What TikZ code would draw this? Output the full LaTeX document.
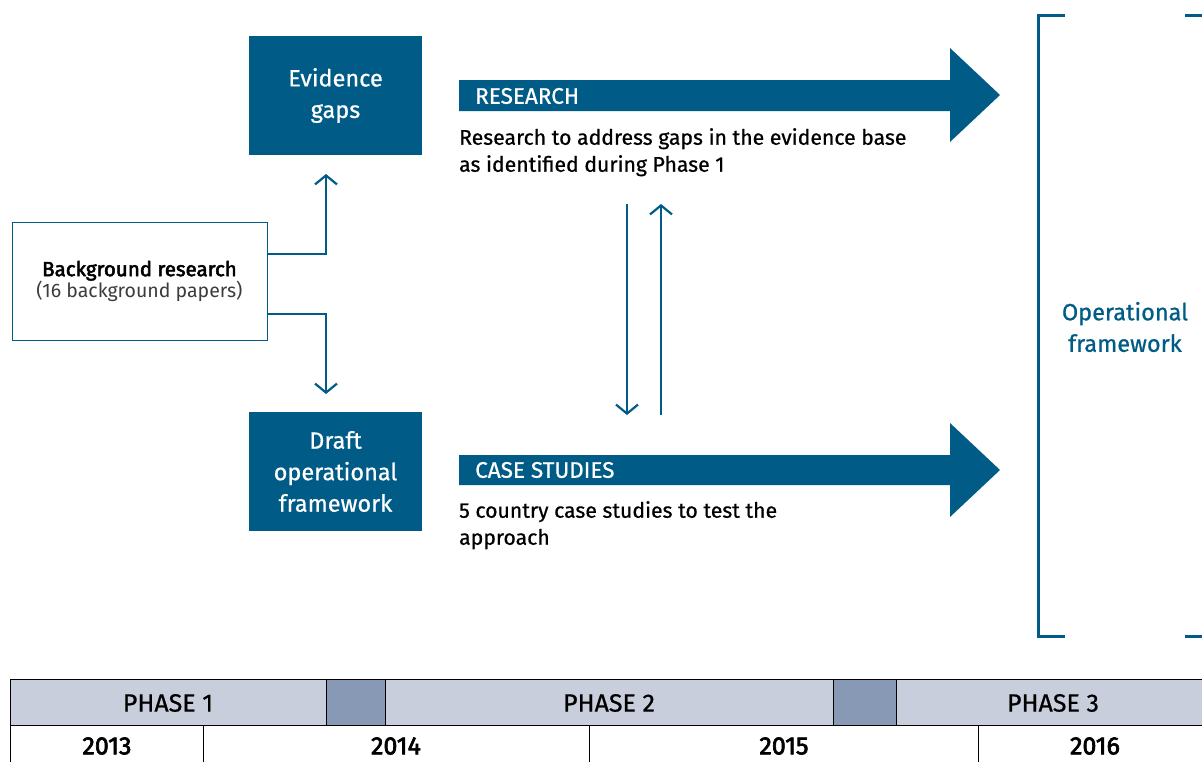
\documentclass[tikz,border=0pt]{standalone}
\usepackage{fontspec}
\setmainfont{Fira Sans}
\newfontfamily\med{Fira Sans}[FakeBold=0.7]
\newfontfamily\semi{Fira Sans}[FakeBold=2.6]
\usetikzlibrary{arrows.meta}
\definecolor{dblue}{RGB}{0,92,135}
\definecolor{phlight}{RGB}{200,206,220}
\definecolor{phdark}{RGB}{135,153,181}
\definecolor{graytxt}{RGB}{60,60,60}
\tikzset{
  bluebox/.style={fill=dblue, text=white, inner sep=0pt, font=\med\fontsize{23.5}{31.5}\selectfont, align=center},
  conn/.style={draw=dblue, line width=2.2pt, -{Straight Barb[length=9pt,width=22pt,line width=2.2pt]}},
  bartext/.style={text=white, anchor=west, font=\med\fontsize{22.5}{24}\selectfont, inner sep=0pt},
  desc/.style={anchor=north west, align=left, font=\med\fontsize{21.2}{27}\selectfont, inner sep=0pt, text=black},
  cell/.style={draw=black, line width=1pt},
  celltext/.style={font=\med\fontsize{25}{26}\selectfont, inner sep=0pt},
  yeartext/.style={font=\semi\fontsize{25}{26}\selectfont, inner sep=0pt},
}
\begin{document}
\begin{tikzpicture}[x=1pt,y=-1pt]
\useasboundingbox[fill=white] (0,0) rectangle (1202,761);

% boxes
\node[bluebox, minimum width=173pt, minimum height=119pt] (eg) at (335.5,95.5) {Evidence\\gaps};
\node[bluebox, minimum width=173pt, minimum height=119pt] (dof) at (335.5,471.5) {Draft\\operational\\framework};
\node[draw=dblue, line width=1pt, fill=white, minimum width=255pt, minimum height=118pt, inner sep=0pt, align=center] (bg) at (139.5,281)
  {{\semi\fontsize{20.5}{25}\selectfont Background research}\\[-1pt]{\fontsize{19.5}{25}\selectfont\color{graytxt}(16 background papers)}};

% connectors from background box
\coordinate (b1) at (267,254);
\coordinate (b2) at (267,314);
\coordinate (t1) at (326,174);
\coordinate (t2) at (326,394);
\draw[conn] (b1) -| (t1);
\draw[conn] (b2) -| (t2);

% big arrows
\fill[dblue] (459,80) -- (950,80) -- (950,48) -- (1000,95) -- (950,142) -- (950,111) -- (459,111) -- cycle;
\fill[dblue] (459,455) -- (950,455) -- (950,423) -- (1000,470) -- (950,517) -- (950,485) -- (459,485) -- cycle;
\node[bartext] (res) at (475,96) {RESEARCH};
\node[bartext] (cs) at (475,470) {CASE STUDIES};
\node[desc] (resd) at (459,128) {Research to address gaps in the evidence base\\as identified during Phase 1};
\node[desc] (csd) at (459,501) {5 country case studies to test the\\approach};

% vertical arrows
\coordinate (d1) at (627,204);
\coordinate (d2) at (627,415);
\coordinate (u1) at (661,415);
\coordinate (u2) at (661,204);
\draw[conn] (d1) -- (d2);
\draw[conn] (u1) -- (u2);

% bracket
\draw[dblue, line width=3pt] (1065,15) -- (1038,15) -- (1038,636) -- (1065,636);
\draw[dblue, line width=3pt] (1185,15) -- (1203,15);
\draw[dblue, line width=3pt] (1185,636) -- (1203,636);
\node[text=dblue, align=center, font=\med\fontsize{23.5}{31.5}\selectfont, inner sep=0pt] (opf) at (1125,327) {Operational\\framework};

% timeline
\filldraw[cell, fill=phlight] (10,679) rectangle (326,725);
\filldraw[cell, fill=phdark] (326,679) rectangle (385,725);
\filldraw[cell, fill=phlight] (385,679) rectangle (833,725);
\filldraw[cell, fill=phdark] (833,679) rectangle (896,725);
\filldraw[cell, fill=phlight] (896,679) rectangle (1203,725);
\draw[cell] (10,725) -- (10,762);
\draw[cell] (203,725) -- (203,762);
\draw[cell] (589,725) -- (589,762);
\draw[cell] (978,725) -- (978,762);
\node[celltext] (p1) at (168,703) {PHASE 1};
\node[celltext] (p2) at (609,703) {PHASE 2};
\node[celltext] (p3) at (1053,703) {PHASE 3};
\node[yeartext] (y13) at (107,746) {2013};
\node[yeartext] (y14) at (396,746) {2014};
\node[yeartext] (y15) at (784,746) {2015};
\node[yeartext] (y16) at (1095,746) {2016};
\end{tikzpicture}
\end{document}
